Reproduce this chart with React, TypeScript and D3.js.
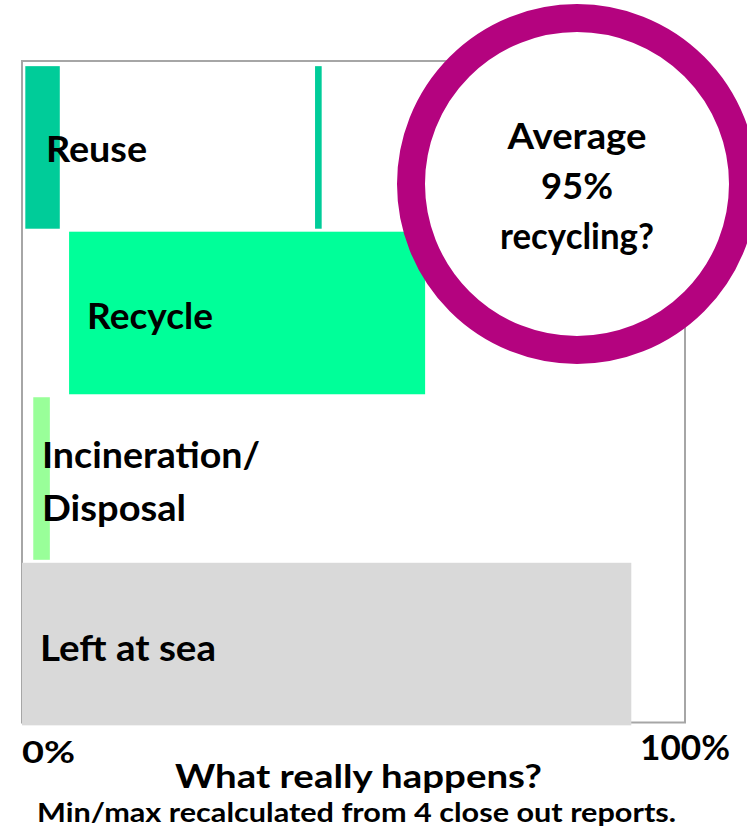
import React from "react";
import * as d3 from "d3";

const categories = ["Reuse", "Recycle", "Incineration/Disposal", "Left at sea"];
const labelLines = [["Reuse"], ["Recycle"], ["Incineration/", "Disposal"], ["Left at sea"]];
// min/max ranges (percent)
const rangeMin = [0.5, 7.1, 1.7, 0];
const rangeMax = [5.7, 60.8, 4.2, 91.9];
// extra thin marker for Reuse
const extraMin = [44.2, null, null, null];
const extraMax = [45.2, null, null, null];
const colors = ["#00CC99", "#00FF99", "#99FF99", "#D9D9D9"];
const tickLabels = ["0%", "100%"];
const calloutLines = ["Average", "95%", "recycling?"];
const title = "What really happens?";
const subtitle = "Min/max recalculated from 4 close out reports.";

const W = 747;
const H = 840;
const FONT = "Lato, 'Open Sans', sans-serif";

export default function App() {
  const x = d3.scaleLinear().domain([0, 100]).range([22, 685]);
  const y = d3
    .scaleBand<string>()
    .domain(categories)
    .range([64.5, 727])
    .paddingInner(0.018)
    .paddingOuter(0.01);
  // label layout (style, not data)
  const labelXOffset = [24, 18, 20, 18];
  const labelBase = [[96], [97], [71, 124], [98]];
  const labelWidths = [[101], [126], [218, 144], [176]];
  const bw = y.bandwidth();
  const cx = 577;
  const cy = 184;
  const rOuter = 180;
  const ringW = 28;
  const calloutWidths = [139, 72, 154];

  return (
    <svg
      width={W}
      height={H}
      style={{ position: "absolute", left: 0, top: 0, background: "#fff" }}
    >
      <rect
        x={x(0)}
        y={61}
        width={x(100) - x(0)}
        height={722.5 - 61}
        fill="none"
        stroke="#A6A6A6"
        strokeWidth={2}
      />
      {categories.map((c, i) => (
        <g key={c}>
          <rect
            x={x(rangeMin[i])}
            y={y(c)}
            width={x(rangeMax[i]) - x(rangeMin[i])}
            height={bw}
            fill={colors[i]}
          />
          {extraMin[i] != null && (
            <rect
              x={x(extraMin[i] as number)}
              y={y(c)}
              width={x(extraMax[i] as number) - x(extraMin[i] as number)}
              height={bw}
              fill={colors[i]}
            />
          )}
        </g>
      ))}
      {categories.map((c, i) =>
        labelLines[i].map((t, j) => (
          <text
            key={c + j}
            x={i === 1 ? x(rangeMin[i]) + labelXOffset[i] : x(0) + labelXOffset[i]}
            y={(y(c) as number) + labelBase[i][j]}
            fontFamily={FONT}
            fontWeight="bold"
            fontSize={36}
            fill="#000"
            textLength={labelWidths[i][j]}
            lengthAdjust="spacingAndGlyphs"
          >
            {t}
          </text>
        ))
      )}
      <circle
        cx={cx}
        cy={cy}
        r={rOuter - ringW / 2}
        fill="#fff"
        stroke="#B4037F"
        strokeWidth={ringW}
      />
      {calloutLines.map((t, i) => (
        <text
          key={t}
          x={cx}
          y={149 + i * 50}
          textAnchor="middle"
          fontFamily={FONT}
          fontWeight="bold"
          fontSize={36}
          fill="#000"
          textLength={calloutWidths[i]}
          lengthAdjust="spacingAndGlyphs"
        >
          {t}
        </text>
      ))}
      <text
        x={x(0)}
        y={763}
        fontFamily={FONT}
        fontWeight="bold"
        fontSize={31}
        fill="#000"
        textLength={53}
        lengthAdjust="spacingAndGlyphs"
      >
        {tickLabels[0]}
      </text>
      <text
        x={640}
        y={760}
        fontFamily={FONT}
        fontWeight="bold"
        fontSize={35}
        fill="#000"
        textLength={90}
        lengthAdjust="spacingAndGlyphs"
      >
        {tickLabels[1]}
      </text>
      <text
        x={175}
        y={788}
        fontFamily={FONT}
        fontWeight="bold"
        fontSize={32}
        fill="#000"
        textLength={367}
        lengthAdjust="spacingAndGlyphs"
      >
        {title}
      </text>
      <text
        x={37}
        y={822}
        fontFamily={FONT}
        fontWeight="bold"
        fontSize={27}
        fill="#000"
        textLength={639}
        lengthAdjust="spacingAndGlyphs"
      >
        {subtitle}
      </text>
    </svg>
  );
}
